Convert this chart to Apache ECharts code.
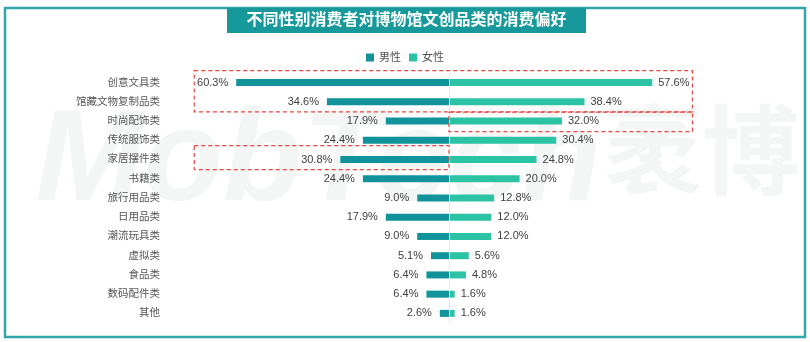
<!DOCTYPE html>
<html>
<head>
<meta charset="utf-8">
<script src="https://cdn.jsdelivr.net/npm/echarts@6/dist/echarts.min.js"></script>
<style>
  html, body { margin: 0; padding: 0; background: #ffffff; }
  #chart { width: 810px; height: 342px; }
</style>
</head>
<body>
<div id="chart"></div>
<script>
// Product categories, top to bottom
const categories = ['创意文具类', '馆藏文物复制品类', '时尚配饰类', '传统服饰类', '家居摆件类', '书籍类',
  '旅行用品类', '日用品类', '潮流玩具类', '虚拟类', '食品类', '数码配件类', '其他'];
// Share of consumers preferring each category (%)
const maleValues = [60.3, 34.6, 17.9, 24.4, 30.8, 24.4, 9.0, 17.9, 9.0, 5.1, 6.4, 6.4, 2.6];
const femaleValues = [57.6, 38.4, 32.0, 30.4, 24.8, 20.0, 12.8, 12.0, 12.0, 5.6, 4.8, 1.6, 1.6];
const seriesNames = ['男性', '女性'];
const titleText = '不同性别消费者对博物馆文创品类的消费偏好';

// Highlight boxes: [first category, last category, x from, x to] in data units
const highlightBoxes = [
  { from: '创意文具类', to: '馆藏文物复制品类', x0: -72.2, x1: 69.0, padTop: 12, padBottom: 10 },
  { from: '时尚配饰类', to: '时尚配饰类', x0: 0, x1: 69.0, padTop: 9, padBottom: 10.5 },
  { from: '家居摆件类', to: '家居摆件类', x0: -72.2, x1: 0, padTop: 14, padBottom: 10 }
];

const FONT = "'Liberation Sans', 'Noto Sans CJK SC', sans-serif";
const MALE = '#10939a';
const FEMALE = '#2cc3a5';

const chart = echarts.init(document.getElementById('chart'), null, { renderer: 'canvas' });

const pct = p => Math.abs(p.value).toFixed(1) + '%';

chart.setOption({
  animation: false,
  backgroundColor: '#ffffff',
  textStyle: { fontFamily: FONT },
  legend: {
    data: seriesNames,
    top: 47,
    left: 'center',
    icon: 'rect',
    itemWidth: 8,
    itemHeight: 8,
    itemGap: 8,
    textStyle: { fontSize: 11, color: '#505050', fontFamily: FONT }
  },
  grid: { left: 202, right: 114, top: 73, bottom: 19, containLabel: false },
  xAxis: {
    type: 'value',
    min: -70,
    max: 70,
    show: false
  },
  yAxis: {
    type: 'category',
    data: categories,
    inverse: true,
    axisLine: { show: false, onZero: false },
    axisTick: { show: false },
    axisLabel: { margin: 42, fontSize: 10.5, color: '#555555', fontFamily: FONT }
  },
  series: [
    {
      name: seriesNames[0],
      type: 'bar',
      data: maleValues.map(v => -v),
      barWidth: 7,
      barGap: '-100%',
      itemStyle: { color: MALE },
      label: {
        show: true, position: 'left', distance: 8, formatter: pct,
        fontSize: 11, color: '#404040', fontFamily: FONT
      },
      markLine: {
        silent: true,
        symbol: 'none',
        label: { show: false },
        lineStyle: { color: '#e4ecec', width: 1, type: 'solid' },
        data: [{ xAxis: 0 }]
      },
      z: 3
    },
    {
      name: seriesNames[1],
      type: 'bar',
      data: femaleValues,
      barWidth: 7,
      itemStyle: { color: FEMALE },
      label: {
        show: true, position: 'right', distance: 6, formatter: pct,
        fontSize: 11, color: '#404040', fontFamily: FONT
      },
      z: 3
    }
  ]
});

// Frame, title banner, background wordmark and dashed highlight boxes
function drawDecorations() {
  const graphics = [
    {
      type: 'text', z: -10, silent: true,
      style: {
        text: 'MobTech', x: 318, y: 164, align: 'center', verticalAlign: 'middle',
        fill: '#f4f5f5', font: 'italic bold 130px ' + FONT
      }
    },
    {
      type: 'text', z: -10, silent: true,
      style: {
        text: '袤博', x: 702, y: 160, align: 'center', verticalAlign: 'middle',
        fill: '#f4f5f5', font: 'bold 98px ' + FONT
      }
    },
    {
      type: 'rect', z: 100, silent: true,
      shape: { x: 5, y: 8, width: 800, height: 329 },
      style: { fill: 'none', stroke: '#32a7ab', lineWidth: 2.5 }
    },
    {
      type: 'rect', z: 101, silent: true,
      shape: { x: 227, y: 8, width: 359, height: 25 },
      style: { fill: '#17999c' }
    },
    {
      type: 'text', z: 102, silent: true,
      style: {
        text: titleText, x: 406.5, y: 21, align: 'center', verticalAlign: 'middle',
        fill: '#ffffff', font: 'bold 16px ' + FONT
      }
    }
  ];

  highlightBoxes.forEach(b => {
    const yTop = chart.convertToPixel({ yAxisIndex: 0 }, b.from) - b.padTop;
    const yBot = chart.convertToPixel({ yAxisIndex: 0 }, b.to) + b.padBottom;
    const xL = chart.convertToPixel({ xAxisIndex: 0 }, b.x0);
    const xR = chart.convertToPixel({ xAxisIndex: 0 }, b.x1);
    graphics.push({
      type: 'rect', z: 50, silent: true,
      shape: { x: xL, y: yTop, width: xR - xL, height: yBot - yTop },
      style: { fill: 'none', stroke: '#e8463f', lineWidth: 1.2, lineDash: [4, 3] }
    });
  });

  chart.setOption({ graphic: graphics });
}

drawDecorations();
</script>
</body>
</html>
